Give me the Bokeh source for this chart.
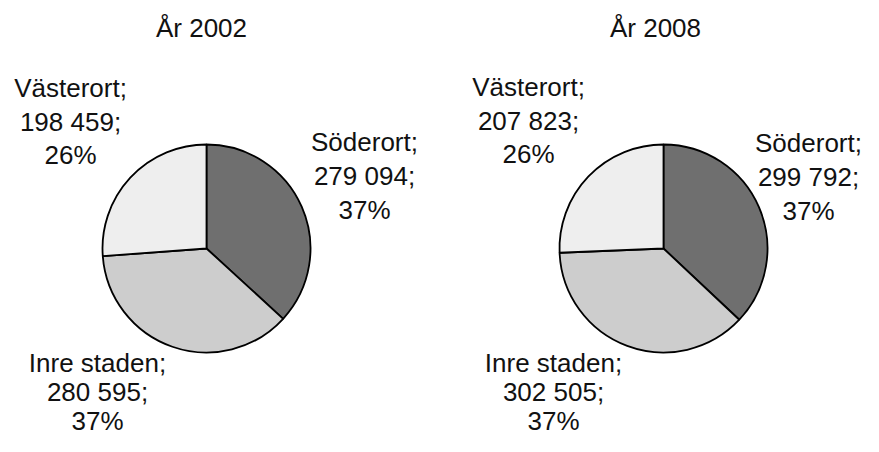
import math
from bokeh.plotting import figure
from bokeh.models import Range1d, ColumnDataSource
from bokeh.core.properties import value
from bokeh.embed import file_html
from bokeh.resources import INLINE

# ---- data ----
years = ["År 2002", "År 2008"]
districts = ["Söderort", "Inre staden", "Västerort"]
values_2002 = [279094, 280595, 198459]
values_2008 = [299792, 302505, 207823]
series = [values_2002, values_2008]

# ---- styles / layout ----
colors = ["#6f6f6f", "#cdcdcd", "#eeeeee"]
PW, PH = 863, 436
H = 452
FONT = value("Liberation Sans")
FS = "26px"

# pie centers (picture pixel coords) and radius
centers = [(206, 248), (663, 248)]
radius = 104
title_pos = [(201, 27), (655, 27)]
# label anchor per pie per district: (center x, text anchors of 3 lines)
label_pos = [
    [(364, [141, 175, 209]), (97, [362, 391, 420]), (70, [87, 121, 154])],
    [(808, [142, 176, 210]), (553, [362, 391, 420]), (528, [86, 120, 153])],
]


def fy(y):
    return H - y


def fmt(v):
    return f"{v:,}".replace(",", " ")


p = figure(width=PW, height=PH, output_backend="svg", toolbar_location=None,
           x_range=Range1d(0, PW), y_range=Range1d(H - PH, H),
           min_border=0)
p.axis.visible = False
p.grid.visible = False
p.outline_line_color = None
p.background_fill_color = "white"
p.border_fill_color = "white"

for k, vals in enumerate(series):
    total = sum(vals)
    cx, cy = centers[k]
    starts, ends = [], []
    a = math.pi / 2
    for v in vals:
        starts.append(a)
        a = a - 2 * math.pi * v / total
        ends.append(a)
    src = ColumnDataSource(dict(x=[cx] * 3, y=[fy(cy)] * 3, s=starts, e=ends, c=colors))
    p.wedge(x="x", y="y", radius=radius, start_angle="s", end_angle="e",
            direction="clock", fill_color="c", line_color="black", line_width=1.8,
            source=src)

    # title
    tx, ty = title_pos[k]
    p.text(x=[tx], y=[fy(ty)], text=[years[k]], text_font=FONT, text_font_size=FS,
           text_align="center", text_baseline="alphabetic", text_color="#111111")

    xs, ys, ts = [], [], []
    for i, v in enumerate(vals):
        pct = round(100 * v / total)
        lines = [f"{districts[i]};", f"{fmt(v)};", f"{pct}%"]
        lx, bls = label_pos[k][i]
        for line, bl in zip(lines, bls):
            xs.append(lx)
            ys.append(fy(bl))
            ts.append(line)
    p.text(x=xs, y=ys, text=ts, text_font=FONT, text_font_size=FS,
           text_align="center", text_baseline="alphabetic", text_color="#111111")

open("out.html", "w").write(file_html(p, INLINE))
